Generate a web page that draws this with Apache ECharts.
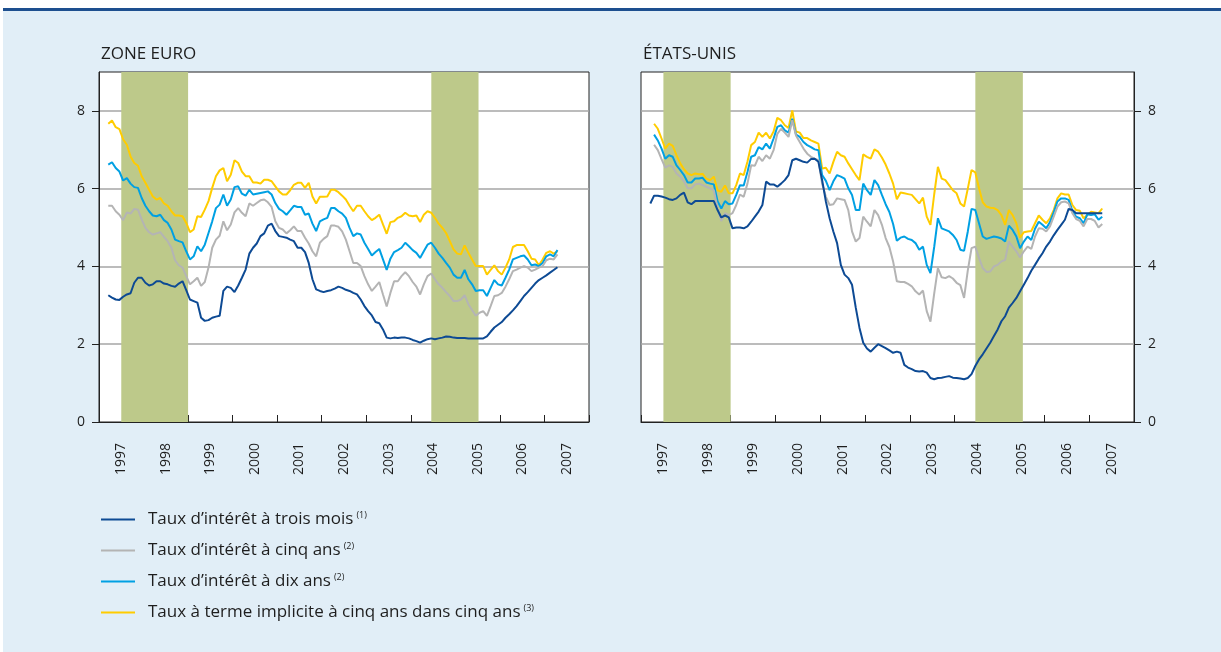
<!DOCTYPE html>
<html>
<head>
<meta charset="utf-8">
<title>Taux d'intérêt</title>
<script src="https://cdn.jsdelivr.net/npm/echarts@6/dist/echarts.min.js"></script>
<style>
  html, body { margin: 0; padding: 0; background: #fff; }
  #panel { position: absolute; left: 3px; top: 8px; width: 1218px; height: 644px; background: #e1eef7; border-top: 3px solid #1d4f8f; box-sizing: border-box; }
  #chart { position: absolute; left: 0; top: 0; width: 1221px; height: 652px; }
</style>
</head>
<body>
<div id="panel"></div>
<div id="chart"></div>
<script>
// premier point : mars 1997 (mois 2 depuis janvier 1997), un point par mois jusqu'a avril 2007
var firstMonth = 2;
var years = ['1997', '1998', '1999', '2000', '2001', '2002', '2003', '2004', '2005', '2006', '2007'];
var yTicks = [0, 2, 4, 6, 8];
// zones grisees (en annees)
var bands = [[1997.5, 1999.0], [2004.46, 2005.52]];

var names = ['Taux d\u2019intérêt à trois mois', 'Taux d\u2019intérêt à cinq ans', 'Taux d\u2019intérêt à dix ans', 'Taux à terme implicite à cinq ans dans cinq ans'];
var notes = ['(1)', '(2)', '(2)', '(3)'];
var colors = ['#0d4a94', '#b4b4b4', '#00a0e3', '#ffcc00'];

// zone euro
var euro3m = [3.26, 3.20, 3.15, 3.14, 3.22, 3.28, 3.31, 3.58, 3.71, 3.71, 3.58, 3.51,
  3.54, 3.62, 3.62, 3.56, 3.54, 3.50, 3.48, 3.56, 3.62, 3.39, 3.15, 3.11,
  3.07, 2.68, 2.60, 2.62, 2.68, 2.71, 2.73, 3.37, 3.48, 3.45, 3.34, 3.51,
  3.71, 3.92, 4.33, 4.48, 4.59, 4.78, 4.85, 5.05, 5.10, 4.91, 4.78, 4.76,
  4.74, 4.69, 4.65, 4.48, 4.48, 4.37, 4.09, 3.67, 3.41, 3.37, 3.34, 3.37,
  3.39, 3.43, 3.48, 3.45, 3.40, 3.37, 3.32, 3.28, 3.15, 2.98, 2.85, 2.74,
  2.57, 2.54, 2.38, 2.17, 2.15, 2.17, 2.16, 2.17, 2.17, 2.15, 2.11, 2.08,
  2.04, 2.09, 2.13, 2.15, 2.13, 2.15, 2.17, 2.20, 2.19, 2.17, 2.16, 2.16,
  2.16, 2.15, 2.15, 2.15, 2.15, 2.15, 2.20, 2.32, 2.43, 2.50, 2.57, 2.68,
  2.77, 2.87, 2.98, 3.11, 3.24, 3.34, 3.45, 3.56, 3.65, 3.71, 3.77, 3.84,
  3.91, 3.98];
var euro5y = [5.56, 5.56, 5.42, 5.33, 5.19, 5.39, 5.36, 5.48, 5.46, 5.21, 4.99, 4.88,
  4.82, 4.85, 4.88, 4.76, 4.65, 4.48, 4.16, 4.03, 3.97, 3.75, 3.54, 3.62,
  3.71, 3.50, 3.60, 3.97, 4.48, 4.69, 4.79, 5.16, 4.93, 5.08, 5.39, 5.50,
  5.38, 5.29, 5.62, 5.56, 5.63, 5.70, 5.72, 5.65, 5.53, 5.16, 4.99, 4.95,
  4.85, 4.93, 5.03, 4.91, 4.91, 4.74, 4.59, 4.39, 4.26, 4.61, 4.71, 4.78,
  5.05, 5.05, 5.02, 4.90, 4.69, 4.39, 4.09, 4.09, 4.01, 3.75, 3.54, 3.37,
  3.48, 3.60, 3.28, 2.97, 3.32, 3.62, 3.62, 3.75, 3.85, 3.75, 3.60, 3.48,
  3.28, 3.54, 3.75, 3.82, 3.67, 3.54, 3.45, 3.34, 3.24, 3.11, 3.11, 3.15,
  3.26, 3.03, 2.88, 2.73, 2.81, 2.85, 2.73, 2.98, 3.24, 3.26, 3.32, 3.48,
  3.67, 3.88, 3.92, 3.97, 4.01, 3.97, 3.88, 3.92, 3.97, 4.01, 4.16, 4.20,
  4.18, 4.31];
var euro10y = [6.62, 6.68, 6.53, 6.44, 6.21, 6.27, 6.13, 6.04, 6.02, 5.76, 5.56, 5.42,
  5.31, 5.29, 5.33, 5.19, 5.12, 4.95, 4.69, 4.65, 4.62, 4.39, 4.18, 4.26,
  4.52, 4.39, 4.56, 4.86, 5.16, 5.50, 5.59, 5.85, 5.56, 5.72, 6.04, 6.06,
  5.87, 5.82, 5.97, 5.85, 5.87, 5.89, 5.91, 5.93, 5.85, 5.63, 5.48, 5.42,
  5.33, 5.44, 5.56, 5.53, 5.53, 5.33, 5.36, 5.10, 4.91, 5.16, 5.21, 5.25,
  5.50, 5.50, 5.42, 5.36, 5.25, 4.99, 4.78, 4.85, 4.82, 4.61, 4.45, 4.28,
  4.37, 4.45, 4.18, 3.91, 4.20, 4.37, 4.42, 4.48, 4.61, 4.52, 4.42, 4.35,
  4.22, 4.39, 4.56, 4.61, 4.48, 4.33, 4.22, 4.09, 3.97, 3.79, 3.71, 3.71,
  3.91, 3.67, 3.54, 3.37, 3.39, 3.39, 3.24, 3.45, 3.65, 3.54, 3.51, 3.71,
  3.92, 4.18, 4.22, 4.26, 4.28, 4.18, 4.03, 4.05, 4.01, 4.09, 4.26, 4.31,
  4.26, 4.42];
var euroFwd = [7.67, 7.75, 7.58, 7.53, 7.27, 7.13, 6.83, 6.66, 6.59, 6.32, 6.15, 5.97,
  5.80, 5.72, 5.76, 5.62, 5.56, 5.42, 5.31, 5.31, 5.29, 5.12, 4.88, 4.95,
  5.29, 5.27, 5.46, 5.68, 6.02, 6.32, 6.47, 6.53, 6.19, 6.36, 6.73, 6.66,
  6.44, 6.32, 6.32, 6.16, 6.16, 6.13, 6.23, 6.23, 6.19, 6.06, 5.93, 5.85,
  5.85, 5.96, 6.10, 6.15, 6.15, 6.02, 6.15, 5.80, 5.62, 5.79, 5.79, 5.80,
  5.97, 5.97, 5.91, 5.82, 5.72, 5.56, 5.42, 5.56, 5.56, 5.42, 5.29, 5.19,
  5.25, 5.33, 5.08, 4.84, 5.14, 5.16, 5.25, 5.29, 5.38, 5.31, 5.29, 5.31,
  5.14, 5.33, 5.42, 5.38, 5.25, 5.10, 4.99, 4.86, 4.65, 4.44, 4.33, 4.31,
  4.54, 4.35, 4.18, 4.01, 4.01, 4.01, 3.79, 3.91, 4.03, 3.88, 3.79, 3.97,
  4.18, 4.50, 4.55, 4.55, 4.55, 4.39, 4.20, 4.18, 4.03, 4.18, 4.35, 4.39,
  4.33, 4.39];

// etats-unis
var us3m = [5.62, 5.82, 5.82, 5.80, 5.77, 5.73, 5.71, 5.75, 5.84, 5.90, 5.65, 5.60,
  5.68, 5.68, 5.68, 5.68, 5.68, 5.68, 5.45, 5.26, 5.31, 5.26, 4.98, 5.00,
  5.00, 4.98, 5.03, 5.15, 5.28, 5.41, 5.58, 6.18, 6.11, 6.11, 6.05, 6.13,
  6.22, 6.35, 6.73, 6.77, 6.73, 6.69, 6.67, 6.76, 6.77, 6.69, 6.22, 5.67,
  5.24, 4.90, 4.60, 4.04, 3.79, 3.70, 3.53, 2.94, 2.42, 2.04, 1.89, 1.81,
  1.91, 2.00, 1.95, 1.90, 1.84, 1.78, 1.81, 1.78, 1.47, 1.40, 1.36, 1.31,
  1.30, 1.31, 1.27, 1.13, 1.10, 1.13, 1.14, 1.16, 1.18, 1.14, 1.13, 1.12,
  1.10, 1.13, 1.23, 1.44, 1.61, 1.74, 1.89, 2.04, 2.21, 2.38, 2.59, 2.72,
  2.94, 3.06, 3.19, 3.36, 3.53, 3.70, 3.89, 4.04, 4.20, 4.34, 4.51, 4.64,
  4.80, 4.94, 5.07, 5.20, 5.48, 5.45, 5.37, 5.37, 5.37, 5.37, 5.37, 5.37,
  5.37, 5.37];
var us5y = [null, 7.13, 6.99, 6.76, 6.54, 6.60, 6.56, 6.39, 6.31, 6.19, 6.01, 6.01,
  6.11, 6.13, 6.09, 6.05, 6.01, 5.96, 5.49, 5.17, 5.37, 5.32, 5.37, 5.58,
  5.85, 5.79, 6.13, 6.60, 6.59, 6.82, 6.71, 6.86, 6.77, 6.99, 7.41, 7.54,
  7.44, 7.33, 7.76, 7.37, 7.20, 7.03, 6.90, 6.82, 6.77, 6.73, 6.13, 5.79,
  5.58, 5.60, 5.75, 5.73, 5.71, 5.45, 4.90, 4.64, 4.73, 5.28, 5.15, 5.03,
  5.45, 5.32, 5.07, 4.73, 4.50, 4.13, 3.62, 3.60, 3.60, 3.55, 3.49, 3.36,
  3.28, 3.38, 2.85, 2.58, 3.30, 3.96, 3.72, 3.70, 3.75, 3.69, 3.58, 3.52,
  3.19, 3.90, 4.47, 4.51, 4.22, 3.96, 3.86, 3.87, 4.00, 4.04, 4.13, 4.17,
  4.64, 4.51, 4.39, 4.23, 4.39, 4.51, 4.45, 4.77, 4.98, 4.97, 4.90, 5.03,
  5.28, 5.54, 5.65, 5.67, 5.62, 5.37, 5.22, 5.17, 5.03, 5.22, 5.22, 5.17,
  5.00, 5.09];
var us10y = [null, 7.39, 7.24, 7.03, 6.77, 6.86, 6.82, 6.60, 6.48, 6.35, 6.16, 6.16,
  6.26, 6.26, 6.28, 6.16, 6.13, 6.11, 5.68, 5.49, 5.68, 5.60, 5.62, 5.84,
  6.09, 6.08, 6.43, 6.82, 6.86, 7.07, 7.01, 7.16, 7.03, 7.29, 7.59, 7.63,
  7.50, 7.44, 7.80, 7.39, 7.33, 7.20, 7.12, 7.07, 7.01, 6.99, 6.35, 6.20,
  5.96, 6.19, 6.35, 6.31, 6.26, 6.01, 5.84, 5.45, 5.45, 6.13, 5.96, 5.84,
  6.22, 6.09, 5.84, 5.60, 5.40, 5.09, 4.66, 4.74, 4.77, 4.71, 4.68, 4.60,
  4.43, 4.51, 4.04, 3.83, 4.50, 5.24, 4.98, 4.94, 4.90, 4.81, 4.68, 4.43,
  4.40, 4.90, 5.48, 5.45, 5.11, 4.77, 4.71, 4.74, 4.77, 4.75, 4.72, 4.64,
  5.05, 4.94, 4.77, 4.47, 4.64, 4.77, 4.68, 4.97, 5.15, 5.07, 4.98, 5.14,
  5.39, 5.67, 5.75, 5.75, 5.71, 5.43, 5.28, 5.24, 5.11, 5.34, 5.32, 5.34,
  5.20, 5.28];
var usFwd = [null, 7.67, 7.54, 7.29, 7.03, 7.16, 7.10, 6.86, 6.65, 6.50, 6.39, 6.35,
  6.39, 6.37, 6.38, 6.26, 6.22, 6.31, 5.96, 5.92, 6.08, 5.88, 5.88, 6.09,
  6.39, 6.35, 6.69, 7.12, 7.20, 7.44, 7.33, 7.44, 7.29, 7.47, 7.82, 7.76,
  7.63, 7.56, 8.01, 7.47, 7.44, 7.30, 7.30, 7.24, 7.20, 7.16, 6.52, 6.54,
  6.39, 6.69, 6.95, 6.86, 6.82, 6.65, 6.50, 6.35, 6.22, 6.88, 6.82, 6.77,
  7.01, 6.95, 6.80, 6.62, 6.39, 6.13, 5.73, 5.90, 5.88, 5.86, 5.84, 5.73,
  5.62, 5.77, 5.28, 5.07, 5.85, 6.56, 6.26, 6.22, 6.09, 5.96, 5.88, 5.62,
  5.54, 6.00, 6.48, 6.42, 6.01, 5.65, 5.54, 5.51, 5.50, 5.45, 5.32, 5.07,
  5.45, 5.32, 5.11, 4.74, 4.88, 4.90, 4.91, 5.11, 5.31, 5.20, 5.11, 5.24,
  5.45, 5.75, 5.88, 5.85, 5.85, 5.58, 5.45, 5.43, 5.24, 5.32, 5.41, 5.39,
  5.37, 5.49];

// milieu de chaque mois en annees decimales
function toPoints(values) {
  return values.map(function (v, i) {
    return [1997 + (firstMonth + i + 0.5) / 12, v];
  });
}

var chart = echarts.init(document.getElementById('chart'));
var font = 'Open Sans';
var textColor = '#1e1e1e';

function bandSeries(g) {
  return {
    type: 'line', xAxisIndex: g * 2, yAxisIndex: g, data: [], silent: true, z: 1,
    markArea: {
      silent: true,
      itemStyle: { color: '#bdc98a' },
      data: bands.map(function (b) { return [{ xAxis: b[0] }, { xAxis: b[1] }]; })
    }
  };
}

function lineSeries(g, idx, values) {
  return {
    name: names[idx], type: 'line', xAxisIndex: g * 2, yAxisIndex: g,
    data: toPoints(values), showSymbol: false, z: 3,
    lineStyle: { color: colors[idx], width: 2 },
    itemStyle: { color: colors[idx] }
  };
}

function valueX(g) {
  return {
    type: 'value', gridIndex: g, min: 1997, max: 2008, interval: 1, position: 'bottom',
    axisLine: { lineStyle: { color: '#222', width: 1 } },
    axisTick: { inside: true, length: 7, lineStyle: { color: '#222' } },
    axisLabel: { show: false }, splitLine: { show: false }
  };
}

function yearX(g) {
  return {
    type: 'category', gridIndex: g, data: years, position: 'bottom',
    axisLine: { show: false }, axisTick: { show: false }, splitLine: { show: false },
    axisLabel: { rotate: 90, margin: 21, fontSize: 14, color: textColor, fontFamily: font }
  };
}

function valueY(g, pos) {
  return {
    type: 'value', gridIndex: g, min: 0, max: 9, interval: 2, position: pos,
    axisLine: { show: true, lineStyle: { color: '#222' } },
    axisTick: { show: true, length: 7, customValues: yTicks, lineStyle: { color: '#222' } },
    axisLabel: { customValues: yTicks, margin: 14, fontSize: 14, color: textColor, fontFamily: font },
    splitLine: { showMinLine: false, lineStyle: { color: '#a6a6a6', width: 1.5 } }
  };
}

var option = {
  animation: false,
  textStyle: { fontFamily: font },
  title: [
    { text: 'ZONE EURO', left: 96, top: 41, textStyle: { fontSize: 17, fontWeight: 'normal', color: textColor, fontFamily: font } },
    { text: 'ÉTATS-UNIS', left: 638, top: 41, textStyle: { fontSize: 17, fontWeight: 'normal', color: textColor, fontFamily: font } }
  ],
  legend: {
    orient: 'vertical', left: 101, top: 511, padding: 0, itemWidth: 34, itemHeight: 2, itemGap: 14,
    icon: 'rect', data: names, selectedMode: false,
    formatter: function (name) {
      return '{t|' + name + '}{s|' + notes[names.indexOf(name)] + '}';
    },
    textStyle: {
      padding: [0, 0, 0, 8],
      rich: {
        t: { fontSize: 17, lineHeight: 17, color: textColor, fontFamily: font },
        s: { fontSize: 9, lineHeight: 10, verticalAlign: 'top', padding: [0, 0, 0, 3], color: textColor, fontFamily: font }
      }
    }
  },
  grid: [
    { left: 99, top: 72, width: 490, height: 350, show: true, backgroundColor: '#fff', borderColor: '#222', borderWidth: 1 },
    { left: 641, top: 72, width: 493, height: 350, show: true, backgroundColor: '#fff', borderColor: '#222', borderWidth: 1 }
  ],
  xAxis: [valueX(0), yearX(0), valueX(1), yearX(1)],
  yAxis: [valueY(0, 'left'), valueY(1, 'right')],
  series: [
    bandSeries(0),
    lineSeries(0, 3, euroFwd),
    lineSeries(0, 2, euro10y),
    lineSeries(0, 1, euro5y),
    lineSeries(0, 0, euro3m),
    bandSeries(1),
    lineSeries(1, 3, usFwd),
    lineSeries(1, 2, us10y),
    lineSeries(1, 1, us5y),
    lineSeries(1, 0, us3m)
  ]
};

chart.setOption(option);
</script>
</body>
</html>
